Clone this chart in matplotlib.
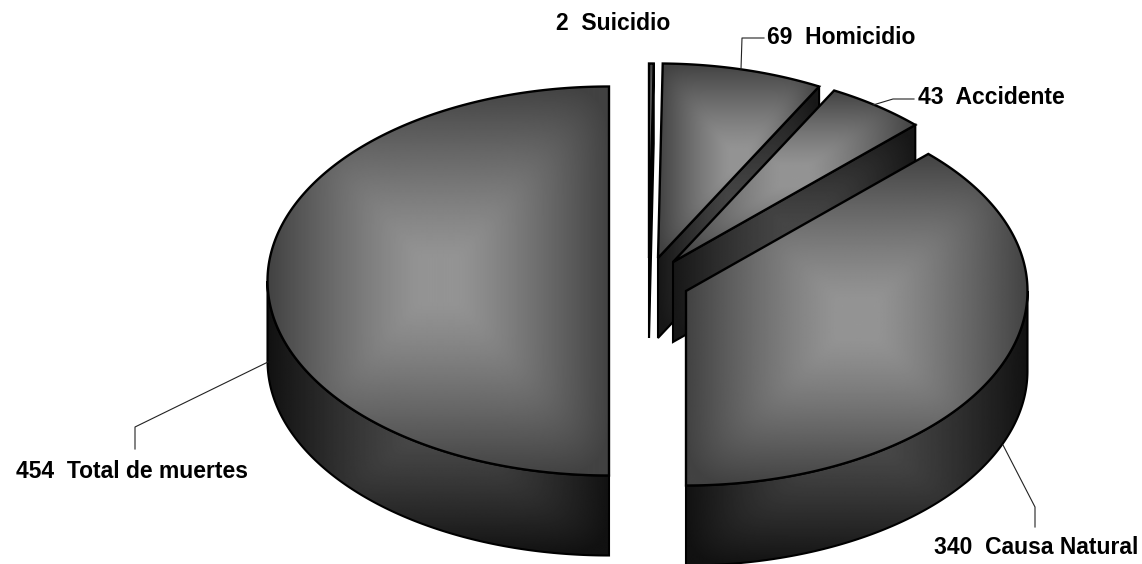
"""Exploded 3D-style pie of deaths by cause, drawn with plain polygons."""

import matplotlib
matplotlib.use("Agg")
import matplotlib.pyplot as plt
import numpy as np
from matplotlib.patches import Polygon

plt.rcParams["font.family"] = ["Liberation Sans", "DejaVu Sans"]

# data, in pie order starting from the bottom going clockwise
names = ["Total de muertes", "Suicidio", "Homicidio", "Accidente", "Causa Natural"]
values = [454, 2, 69, 43, 340]

# slice apex in pixels, one per slice
apex_x = [609, 649, 658, 673, 686]
apex_y = [281, 258, 258, 262, 291]

# label anchors (left edge, vertical centre) and leader polylines
label_x = [16, 556, 767, 918, 934]
label_y = [471, 24, 37, 98, 548]
leaders = [
    [(268, 362), (135, 427), (135, 449)],
    None,
    [(741, 69), (742, 38), (764, 38)],
    [(873, 105), (893, 99), (914, 99)],
    [(1003, 445), (1035, 507), (1035, 527)],
]

RX, RY = 341.5, 194.5
DEPTH = 80


def rim(cx, cy, start, stop, n=200):
    t = np.radians(np.linspace(start, stop, n))
    return np.column_stack([cx + RX * np.sin(t), cy - RY * np.cos(t)])


def shaded(ax, pts, centre, edge, z, lw):
    """Fill a polygon with a soft rectangular gradient out from its bbox centre."""
    patch = Polygon(pts, closed=True, facecolor="none", edgecolor="black",
                    linewidth=lw, joinstyle="miter", zorder=z + 0.5)
    ax.add_patch(patch)
    x0, y0 = pts.min(axis=0)
    x1, y1 = pts.max(axis=0)
    u = np.linspace(-1, 1, max(int(x1 - x0), 2))
    v = np.linspace(-1, 1, max(int(y1 - y0), 2))
    uu, vv = np.meshgrid(u, v)
    # a high-order norm keeps the square shape but rounds off the diagonals
    dist = (np.abs(uu) ** 9 + np.abs(vv) ** 9) ** (1 / 9)
    shade = np.clip((dist - 0.1) / 0.9, 0, 1) ** 1.25
    img = centre + (edge - centre) * shade
    im = ax.imshow(img, extent=(x0, x1, y1, y0), cmap="gray", vmin=0, vmax=1,
                   aspect="auto", interpolation="bilinear", zorder=z)
    clip = Polygon(pts, closed=True, transform=ax.transData)
    im.set_clip_path(clip)


fig = plt.figure(figsize=(11.42, 5.64), dpi=100)
ax = fig.add_axes([0, 0, 1, 1])

angles = np.cumsum([0] + [v / sum(values) * 360 for v in values])
z = 1
for i, value in enumerate(values):
    start, stop = angles[i] + 180, angles[i + 1] + 180
    if i > 0:
        start, stop = start - 360, stop - 360
    cx, cy = apex_x[i], apex_y[i]

    # outer wall, only the part that faces the viewer
    lo, hi = max(start, 90), min(stop, 270)
    if lo < hi:
        arc = rim(cx, cy, lo, hi)
        wall = np.vstack([arc, (arc + [0, DEPTH])[::-1]])
        shaded(ax, wall, 0.29, 0.07, z, 1.5)
        z += 1

    # cut face on the clockwise side of the slice
    if stop < 180:
        tip = rim(cx, cy, stop, stop, 1)[0]
        face = np.array([[cx, cy], tip, tip + [0, DEPTH], [cx, cy + DEPTH]])
        shaded(ax, face, 0.27, 0.09, z, 1.5)
        z += 1

    # top face
    top = np.vstack([[cx, cy], rim(cx, cy, start, stop)])
    shaded(ax, top, 0.58, 0.26, z, 1.7)
    z += 1

for i, path in enumerate(leaders):
    if path is not None:
        xs, ys = zip(*path)
        ax.plot(xs, ys, color="#222222", linewidth=0.8, zorder=z)
    ax.text(label_x[i], label_y[i], f"{values[i]}  {names[i]}", fontsize=16.5,
            fontweight="bold", ha="left", va="center", color="black", zorder=z + 1)

ax.set_xlim(0, 1142)
ax.set_ylim(564, 0)
ax.axis("off")

fig.savefig("out.png", dpi=100, facecolor="white")
plt.close(fig)
